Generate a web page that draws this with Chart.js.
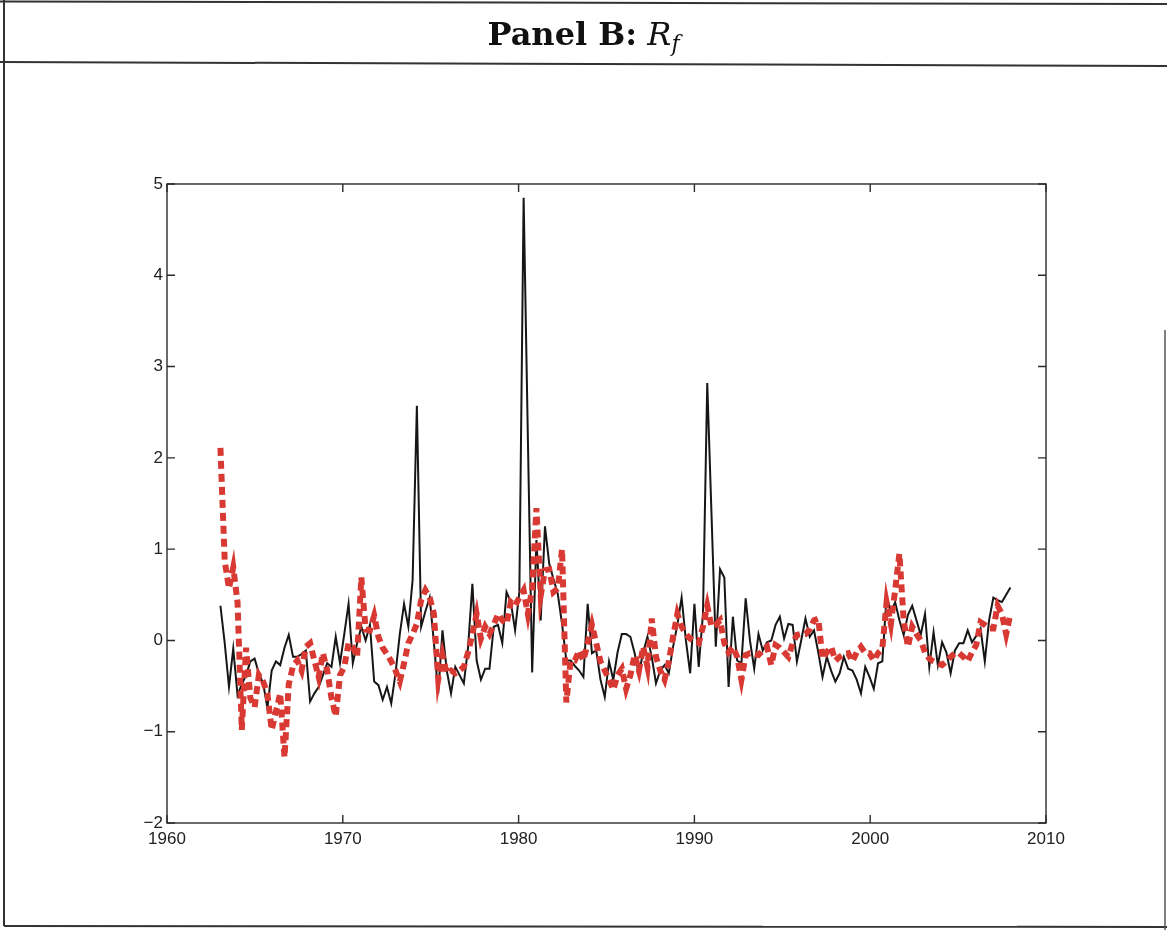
<!DOCTYPE html>
<html>
<head>
<meta charset="utf-8">
<title>Panel B: Rf</title>
<script src="https://cdn.jsdelivr.net/npm/chart.js@4.4.1/dist/chart.umd.min.js"></script>
<style>
    html, body { margin: 0; padding: 0; background: #fff; }
    #page { position: relative; width: 1167px; height: 930px; overflow: hidden; }
    #chart { position: absolute; left: 0; top: 0; }
    #frame { position: absolute; left: 0; top: 0; }
    #title {
        position: absolute; left: 0; width: 1167px; top: 14px;
        text-align: center; color: #111;
        font-family: "DejaVu Serif", serif; font-size: 32px; line-height: 40px;
    }
    #title b { font-weight: bold; }
    #title i { font-style: italic; }
    #title sub { font-size: 22px; font-style: italic; vertical-align: -6px; line-height: 0; }
</style>
</head>
<body>
<div id="page">
    <canvas id="chart" width="1167" height="930"></canvas>
    <svg id="frame" width="1167" height="930">
        <line x1="0" y1="1.5" x2="1167" y2="4" stroke="#333" stroke-width="2"/>
        <line x1="0" y1="62" x2="1167" y2="66" stroke="#333" stroke-width="2"/>
        <line x1="4" y1="0" x2="4" y2="926" stroke="#333" stroke-width="2"/>
        <line x1="4" y1="926" x2="1167" y2="927" stroke="#333" stroke-width="2"/>
        <line x1="1165" y1="330" x2="1165" y2="930" stroke="#555" stroke-width="1.5"/>
    </svg>
    <div id="title"><b>Panel B:</b> <i>R</i><sub>f</sub></div>
</div>
<script>
// sample dates: first observation and spacing (in years)
const startYear = 1963.04;
const sampleStep = 0.2429;

// axis ticks
const xTicks = [1960, 1970, 1980, 1990, 2000, 2010];
const yTicks = [-2, -1, 0, 1, 2, 3, 4, 5];

// realized series (solid black)
const realized = [
    0.38, -0.03, -0.51, -0.09, -0.6, -0.48, -0.38, -0.23, -0.2, -0.36,
    -0.47, -0.74, -0.33, -0.23, -0.27, -0.08, 0.06, -0.18, -0.18, -0.15,
    -0.11, -0.67, -0.58, -0.51, -0.38, -0.25, -0.29, 0.04, -0.25, 0.07,
    0.4, -0.25, -0.03, 0.15, 0.0, 0.17, -0.45, -0.49, -0.65, -0.51,
    -0.69, -0.36, 0.07, 0.4, 0.15, 0.66, 2.57, 0.15, 0.32, 0.47,
    -0.03, -0.58, 0.11, -0.33, -0.58, -0.29, -0.38, -0.47, -0.07, 0.62,
    -0.22, -0.43, -0.31, -0.31, 0.15, 0.17, -0.03, 0.53, 0.42, 0.11,
    0.53, 4.85, 2.2, -0.35, 1.1, 0.22, 1.25, 0.84, 0.67, 0.51,
    0.18, -0.22, -0.22, -0.28, -0.33, -0.4, 0.4, -0.14, -0.11, -0.43,
    -0.62, -0.23, -0.43, -0.13, 0.07, 0.07, 0.04, -0.14, -0.36, -0.13,
    0.04, -0.18, -0.47, -0.33, -0.27, -0.36, -0.07, 0.17, 0.47, 0.0,
    -0.36, 0.4, -0.29, 0.29, 2.82, 1.38, -0.07, 0.78, 0.69, -0.51,
    0.26, -0.22, -0.25, 0.46, 0.0, -0.31, 0.07, -0.11, -0.02, 0.0,
    0.17, 0.26, 0.02, 0.18, 0.17, -0.23, 0.0, 0.24, 0.04, 0.11,
    -0.13, -0.4, -0.18, -0.33, -0.45, -0.36, -0.18, -0.31, -0.33, -0.43,
    -0.58, -0.29, -0.4, -0.53, -0.25, -0.23, 0.49, 0.31, 0.42, 0.22,
    0.06, 0.28, 0.38, 0.22, 0.06, 0.29, -0.29, 0.09, -0.27, -0.02,
    -0.13, -0.36, -0.11, -0.03, -0.03, 0.11, -0.02, 0.05, 0.13, -0.23,
    0.22, 0.47, 0.44, 0.42, 0.5, 0.58
];

// fitted series (thick red dashes)
const fitted = [
    2.11, 0.87, 0.57, 0.8, 0.42, -0.98, -0.08, -0.63, -0.73, -0.38,
    -0.45, -0.58, -0.98, -0.78, -0.58, -1.28, -0.48, -0.28, -0.22, -0.33,
    -0.07, -0.03, -0.22, -0.4, -0.14, -0.33, -0.63, -0.83, -0.38, -0.29,
    -0.03, -0.07, -0.18, 0.69, 0.12, 0.11, 0.27, 0.04, -0.08, -0.15,
    -0.23, -0.33, -0.45, -0.25, -0.03, 0.07, 0.18, 0.44, 0.55, 0.47,
    0.29, -0.43, -0.16, -0.36, -0.33, -0.36, -0.33, -0.29, -0.13, 0.07,
    0.29, 0.02, 0.15, 0.07, 0.17, 0.29, 0.22, 0.18, 0.42, 0.38,
    0.47, 0.55, 0.29, 0.57, 1.45, 0.49, 0.77, 0.78, 0.53, 0.57,
    1.0, -0.68, -0.22, -0.22, -0.11, -0.22, -0.03, 0.17, -0.03, -0.23,
    -0.33, -0.43, -0.54, -0.38, -0.31, -0.53, -0.38, -0.16, -0.33, -0.07,
    -0.29, 0.24, -0.18, -0.33, -0.43, -0.23, 0.04, 0.29, 0.15, 0.07,
    0.02, -0.01, -0.03, 0.15, 0.38, 0.15, 0.17, 0.22, -0.03, -0.13,
    -0.07, -0.18, -0.43, -0.16, -0.14, -0.15, -0.16, -0.11, -0.07, -0.27,
    -0.05, -0.08, -0.13, -0.18, -0.03, 0.06, 0.07, 0.07, 0.12, 0.22,
    0.24, -0.2, -0.13, -0.07, -0.22, -0.18, -0.15, -0.14, -0.23, -0.13,
    -0.07, -0.14, -0.14, -0.22, -0.14, -0.09, 0.42, 0.18, 0.55, 0.95,
    0.22, -0.07, 0.15, 0.07, 0.0, -0.13, -0.2, -0.23, -0.25, -0.27,
    -0.23, -0.18, -0.14, -0.14, -0.18, -0.23, -0.13, -0.05, 0.2, 0.17,
    0.13, 0.13, 0.38, 0.29, 0.07, 0.29
];

function toPoints(values) {
    return values.map((v, i) => ({ x: startYear + i * sampleStep, y: v }));
}

function formatTick(value) {
    return value < 0 ? '\u2212' + Math.abs(value) : String(value);
}

// MATLAB-style box with inward ticks on all four sides
const boxPlugin = {
    id: 'box',
    afterDraw(chart) {
        const { ctx, chartArea: a, scales } = chart;
        const len = 8;
        ctx.save();
        ctx.strokeStyle = '#2b2b2b';
        ctx.lineWidth = 1.4;
        ctx.strokeRect(a.left, a.top, a.right - a.left, a.bottom - a.top);
        ctx.beginPath();
        xTicks.forEach(t => {
            const x = scales.x.getPixelForValue(t);
            ctx.moveTo(x, a.bottom); ctx.lineTo(x, a.bottom - len);
            ctx.moveTo(x, a.top); ctx.lineTo(x, a.top + len);
        });
        yTicks.forEach(t => {
            const y = scales.y.getPixelForValue(t);
            ctx.moveTo(a.left, y); ctx.lineTo(a.left + len, y);
            ctx.moveTo(a.right, y); ctx.lineTo(a.right - len, y);
        });
        ctx.stroke();
        ctx.restore();
    }
};

function createChart() {
    const ctx = document.getElementById('chart').getContext('2d');
    const tickFont = { family: '"Liberation Sans", Arial, sans-serif', size: 17 };

    new Chart(ctx, {
        type: 'line',
        data: {
            datasets: [{
                label: 'Rf',
                data: toPoints(realized),
                borderColor: '#161616',
                borderWidth: 2,
                pointRadius: 0,
                tension: 0,
                order: 1
            }, {
                label: 'Fitted',
                data: toPoints(fitted),
                borderColor: '#d83a33',
                borderWidth: 6,
                borderDash: [8, 5],
                borderCapStyle: 'butt',
                pointRadius: 0,
                tension: 0,
                order: 0
            }]
        },
        options: {
            responsive: false,
            animation: false,
            events: [],
            layout: { padding: { top: 184, right: 121, left: 0, bottom: 0 } },
            plugins: {
                legend: { display: false },
                tooltip: { enabled: false }
            },
            scales: {
                x: {
                    type: 'linear',
                    min: 1960,
                    max: 2010,
                    afterFit: scale => { scale.height = 107; },
                    grid: { display: false, drawTicks: false },
                    border: { display: false },
                    ticks: {
                        stepSize: 10,
                        padding: 6,
                        color: '#222',
                        font: tickFont,
                        maxRotation: 0,
                        callback: value => String(value)
                    }
                },
                y: {
                    min: -2,
                    max: 5,
                    afterFit: scale => { scale.width = 167; },
                    grid: { display: false, drawTicks: false },
                    border: { display: false },
                    ticks: {
                        stepSize: 1,
                        padding: 4,
                        color: '#222',
                        font: tickFont,
                        callback: formatTick
                    }
                }
            }
        },
        plugins: [boxPlugin]
    });
}

document.addEventListener('DOMContentLoaded', createChart);
</script>
</body>
</html>
